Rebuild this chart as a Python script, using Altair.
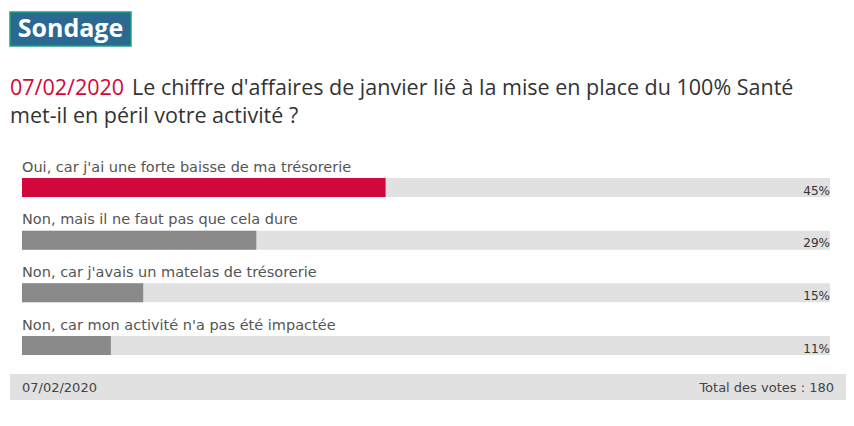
import altair as alt
import pandas as pd

# poll data
answers = [
    "Oui, car j'ai une forte baisse de ma trésorerie",
    "Non, mais il ne faut pas que cela dure",
    "Non, car j'avais un matelas de trésorerie",
    "Non, car mon activité n'a pas été impactée",
]
percents = [45, 29, 15, 11]
poll_date = "07/02/2020"
question_1 = "Le chiffre d'affaires de janvier lié à la mise en place du 100% Santé"
question_2 = "met-il en péril votre activité ?"
total_votes = 180

FONT = "Open Sans"
SMALL_FONT = "DejaVu Sans"
RED = "#d2073b"
GREY_BAR = "#898989"
TRACK = "#e1e1e1"

data = pd.DataFrame({
    "answer": answers,
    "pct": percents,
    "full": [100] * len(answers),
    "label": [f"{p}%" for p in percents],
    "first": [i == 0 for i in range(len(answers))],
})

xscale = alt.Scale(domain=[0, 100], range=[14, 822])
y = alt.Y("answer:N", sort=answers, scale=alt.Scale(type="point", range=[179.5, 337.5], padding=0), axis=None)

base = alt.Chart(data)

track = base.mark_bar(height=19, color=TRACK).encode(
    x=alt.X("full:Q", scale=xscale, axis=None),
    y=y,
)

bars = base.mark_bar(height=19).encode(
    x=alt.X("pct:Q", scale=xscale, axis=None),
    y=y,
    color=alt.condition("datum.first", alt.value(RED), alt.value(GREY_BAR)),
)

labels = base.mark_text(align="left", baseline="middle", dy=-20, font=SMALL_FONT, fontSize=14.5, color="#555").encode(
    x=alt.value(14),
    y=y,
    text="answer:N",
)

pct_text = base.mark_text(align="right", baseline="middle", dy=3, font=SMALL_FONT, fontSize=12, color="#333").encode(
    x=alt.value(822),
    y=y,
    text="label:N",
)

one = alt.Chart(pd.DataFrame({"k": [0]}))

badge = one.mark_rect(color="#2a6a92", stroke="#1fa37a", strokeWidth=1.5).encode(
    x=alt.value(2), x2=alt.value(123), y=alt.value(4), y2=alt.value(38)
)
badge_text = one.mark_text(text="Sondage", align="center", baseline="middle", font=FONT,
                           fontSize=25, fontWeight="bold", color="white").encode(
    x=alt.value(62.5), y=alt.value(21)
)

title_date = one.mark_text(text=poll_date, align="left", baseline="alphabetic", font=FONT,
                           fontSize=21.5, color=RED).encode(x=alt.value(2), y=alt.value(87))
title_1 = one.mark_text(text=question_1, align="left", baseline="alphabetic", font=FONT,
                        fontSize=21.5, color="#333").encode(x=alt.value(124), y=alt.value(87))
title_2 = one.mark_text(text=question_2, align="left", baseline="alphabetic", font=FONT,
                        fontSize=21.5, color="#333").encode(x=alt.value(2), y=alt.value(115))

footer = one.mark_rect(color=TRACK).encode(
    x=alt.value(2), x2=alt.value(838), y=alt.value(366), y2=alt.value(392)
)
footer_left = one.mark_text(text=poll_date, align="left", baseline="middle", font=SMALL_FONT,
                            fontSize=13, color="#444").encode(x=alt.value(14), y=alt.value(380))
footer_right = one.mark_text(text=f"Total des votes : {total_votes}", align="right", baseline="middle",
                             font=SMALL_FONT, fontSize=13, color="#444").encode(x=alt.value(826), y=alt.value(380))

chart = alt.layer(
    badge, badge_text, title_date, title_1, title_2,
    track, bars, labels, pct_text,
    footer, footer_left, footer_right,
).properties(
    width=838, height=410, autosize="none", padding=0, background="white"
).configure_view(stroke=None)

chart.save("out.html", embed_options={"renderer": "svg", "actions": False})
